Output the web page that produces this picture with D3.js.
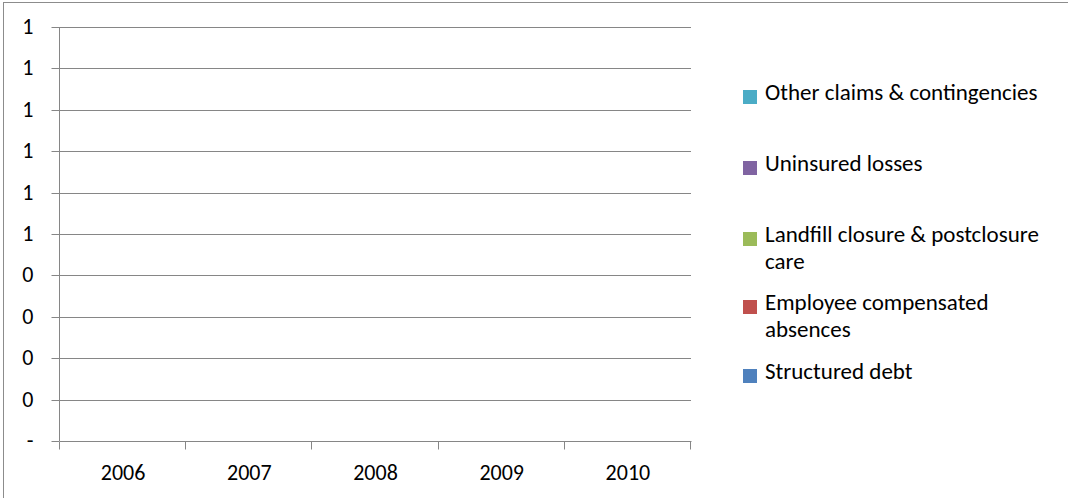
<!DOCTYPE html>
<html>
<head>
<meta charset="utf-8">
<script src="https://cdn.jsdelivr.net/npm/d3@7"></script>
<style>
  html, body { margin: 0; padding: 0; background: #fff; }
  svg { display: block; }
  text { font-family: Carlito, Lato, "Open Sans", sans-serif; fill: #000; }
</style>
</head>
<body>
<svg id="chart" width="1068" height="498"></svg>
<script>
// ---- data ----
const years = ["2006", "2007", "2008", "2009", "2010"];
const seriesNames = ["Structured debt", "Employee compensated absences", "Landfill closure & postclosure care", "Uninsured losses", "Other claims & contingencies"];
const seriesColors = ["#4F81BD", "#C0504D", "#9BBB59", "#8064A2", "#4BACC6"];
const structuredDebt = [0, 0, 0, 0, 0];
const employeeAbsences = [0, 0, 0, 0, 0];
const landfillCare = [0, 0, 0, 0, 0];
const uninsuredLosses = [0, 0, 0, 0, 0];
const otherClaims = [0, 0, 0, 0, 0];
const yTickValues = [0, 0.1, 0.2, 0.3, 0.4, 0.5, 0.6, 0.7, 0.8, 0.9, 1.0];
const yTickLabels = ["-", "0", "0", "0", "0", "1", "1", "1", "1", "1", "1"];

// ---- layout ----
const plot = { left: 60, right: 691, top: 27, bottom: 441 };
const svg = d3.select("#chart");
const gridColor = "#868686";
const axisFont = 22, legendFont = 23;

// outer frame
svg.append("rect")
  .attr("x", 3.5).attr("y", 2.5)
  .attr("width", 1068).attr("height", 510)
  .attr("fill", "none").attr("stroke", "#8c8c8c").attr("stroke-width", 1);

const x = d3.scaleBand().domain(years).range([plot.left, plot.right]).padding(0.45);
const xOuter = d3.scaleBand().domain(years).range([plot.left, plot.right]).padding(0);
const y = d3.scaleLinear().domain([0, 1]).range([plot.bottom, plot.top]);
const py = d => Math.round(y(d)) + 0.5;

// gridlines
svg.append("g").selectAll("line").data(yTickValues.slice(1)).join("line")
  .attr("x1", plot.left).attr("x2", plot.right)
  .attr("y1", py).attr("y2", py)
  .attr("stroke", gridColor).attr("stroke-width", 1);

// y axis
const yAxis = d3.axisLeft(y).tickValues(yTickValues)
  .tickFormat((d, i) => yTickLabels[i]).tickSize(8).tickPadding(18);
const gy = svg.append("g").attr("transform", `translate(${plot.left - 0.5},0)`).call(yAxis);
gy.select(".domain").attr("stroke", gridColor).attr("d", `M0,${plot.top}V${plot.bottom}`);
gy.selectAll(".tick line").attr("stroke", gridColor);
gy.selectAll(".tick").attr("transform", d => `translate(0,${py(d)})`);
gy.selectAll(".tick text")
  .attr("font-size", axisFont).attr("font-family", "Carlito, Lato, sans-serif")
  .attr("x", -26).attr("dy", 6);

// stacked bars (all zero)
const seriesValues = [structuredDebt, employeeAbsences, landfillCare, uninsuredLosses, otherClaims];
const table = years.map((yr, i) => {
  const row = { year: yr };
  seriesNames.forEach((s, k) => row[s] = seriesValues[k][i]);
  return row;
});
const stack = d3.stack().keys(seriesNames)(table);
svg.append("g").selectAll("g").data(stack).join("g")
  .attr("fill", (d, i) => seriesColors[i])
  .selectAll("rect").data(d => d).join("rect")
  .attr("x", d => x(d.data.year))
  .attr("width", x.bandwidth())
  .attr("y", d => y(d[1]))
  .attr("height", d => y(d[0]) - y(d[1]));

// x axis
const xAxis = d3.axisBottom(xOuter).tickSize(0).tickPadding(0);
const gx = svg.append("g").attr("transform", `translate(0,${plot.bottom + 0.5})`).call(xAxis);
gx.select(".domain").attr("stroke", gridColor).attr("d", `M${plot.left},0H${plot.right + 0.5}`);
gx.selectAll(".tick text")
  .attr("font-size", axisFont).attr("font-family", "Carlito, Lato, sans-serif")
  .attr("y", 38).attr("dy", 0);
// category boundary tick marks
const boundaries = years.map(yr => xOuter(yr)).concat([plot.right]);
gx.append("g").selectAll("line").data(boundaries).join("line")
  .attr("x1", d => Math.round(d) - 0.5).attr("x2", d => Math.round(d) - 0.5)
  .attr("y1", 0).attr("y2", 8).attr("stroke", gridColor);

// legend (reverse order, top = last series)
const legendItems = seriesNames.map((n, i) => ({ name: n, color: seriesColors[i] })).reverse();
const legendBaselines = [100, 171, 242, 310, 379];
const lineH = 27;
const maxW = 295;
const legend = svg.append("g");
legendItems.forEach((item, i) => {
  const g = legend.append("g");
  g.append("rect").attr("x", 743).attr("y", legendBaselines[i] - 10)
    .attr("width", 14).attr("height", 14).attr("fill", item.color);
  const t = g.append("text").attr("x", 765).attr("y", legendBaselines[i]).attr("font-size", legendFont);
  const words = item.name.split(" ");
  let line = [];
  let tspan = t.append("tspan").attr("x", 765).attr("dy", 0);
  words.forEach(w => {
    line.push(w);
    tspan.text(line.join(" "));
    if (tspan.node().getComputedTextLength() > maxW && line.length > 1) {
      line.pop();
      tspan.text(line.join(" "));
      line = [w];
      tspan = t.append("tspan").attr("x", 765).attr("dy", lineH).text(w);
    }
  });
});
</script>
</body>
</html>
